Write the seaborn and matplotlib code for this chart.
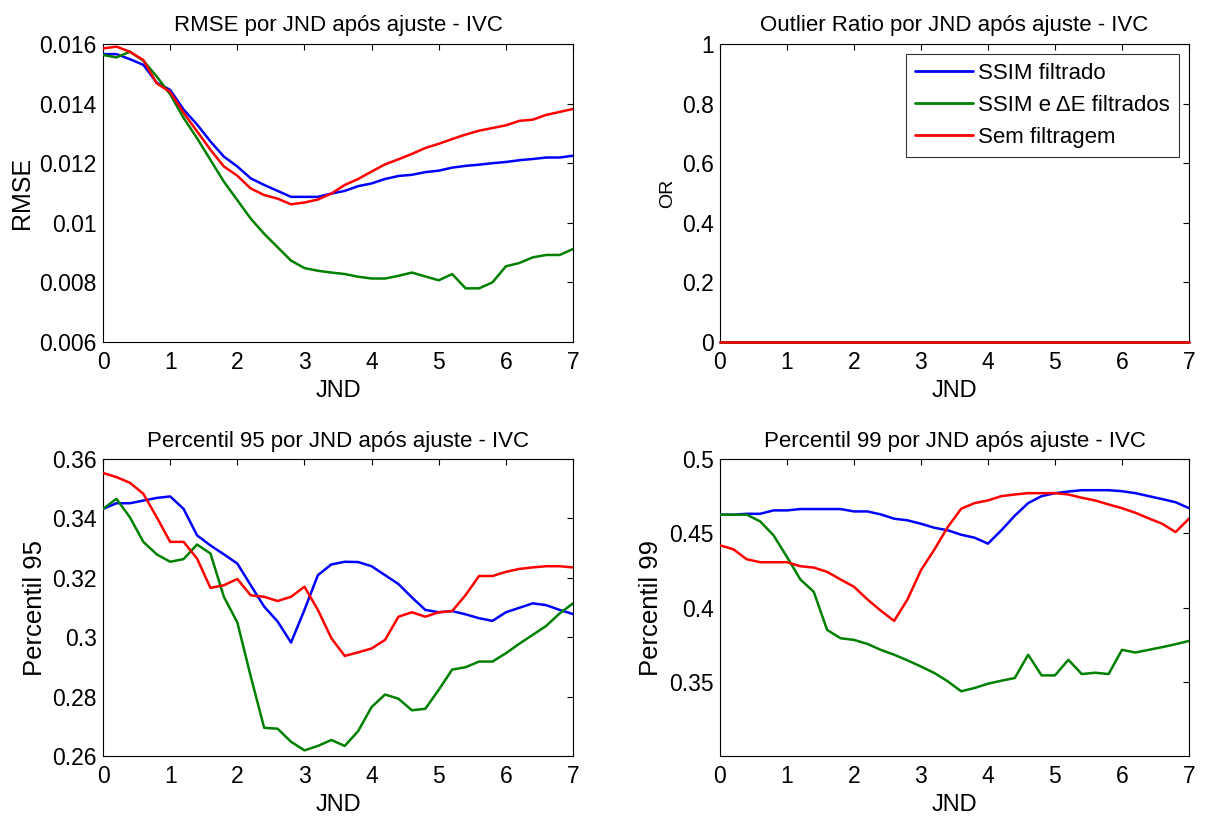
import seaborn as sns
import matplotlib
matplotlib.use('Agg')
import matplotlib.pyplot as plt
import numpy as np
import pandas as pd

jnd = [round(0.2 * i, 1) for i in range(36)]

series_names = ['SSIM filtrado', 'SSIM e \u0394E filtrados', 'Sem filtragem']
colors = ['#0000ff', '#008000', '#ff0000']

# RMSE
rmse_ssim = [0.01566, 0.01566, 0.01549, 0.0153, 0.0147, 0.01446, 0.0138, 0.0133, 0.01273, 0.01222,
             0.01189, 0.01149, 0.01127, 0.01107, 0.01087, 0.01087, 0.01087, 0.01098, 0.01107, 0.01123,
             0.01132, 0.01147, 0.01157, 0.01161, 0.0117, 0.01175, 0.01185, 0.01191, 0.01195, 0.012,
             0.01204, 0.0121, 0.01214, 0.01219, 0.01219, 0.01225]
rmse_ssim_de = [0.01563, 0.01555, 0.01574, 0.01544, 0.01491, 0.01431, 0.01352, 0.01284, 0.01211, 0.01138,
                0.01076, 0.01014, 0.00963, 0.00918, 0.00873, 0.00848, 0.00839, 0.00833, 0.00828, 0.00819,
                0.00813, 0.00813, 0.00822, 0.00833, 0.0082, 0.00807, 0.00828, 0.0078, 0.0078, 0.008,
                0.00854, 0.00865, 0.00884, 0.00892, 0.00892, 0.00912]
rmse_none = [0.01585, 0.01591, 0.01574, 0.01546, 0.01468, 0.01439, 0.01369, 0.01307, 0.01245, 0.01189,
             0.01158, 0.01115, 0.01093, 0.01081, 0.01062, 0.01068, 0.01078, 0.01098, 0.01127, 0.01147,
             0.01172, 0.01196, 0.01213, 0.01231, 0.01251, 0.01265, 0.01281, 0.01296, 0.01309, 0.01318,
             0.01327, 0.01342, 0.01346, 0.01362, 0.01372, 0.01382]

# Outlier ratio (all zero)
or_ssim = [0.0] * 36
or_ssim_de = [0.0] * 36
or_none = [0.0] * 36

# Percentil 95
p95_ssim = [0.3432, 0.3451, 0.3451, 0.346, 0.3469, 0.3474, 0.3432, 0.3343, 0.3309, 0.3279,
            0.3248, 0.3175, 0.3103, 0.3053, 0.2982, 0.3092, 0.3209, 0.3245, 0.3254, 0.3253,
            0.3239, 0.3209, 0.3179, 0.3134, 0.3092, 0.3084, 0.3088, 0.3077, 0.3064, 0.3055,
            0.3084, 0.3099, 0.3114, 0.3108, 0.3092, 0.3078]
p95_ssim_de = [0.3432, 0.3466, 0.3404, 0.3321, 0.3279, 0.3254, 0.3263, 0.3312, 0.3282, 0.3136,
               0.305, 0.2868, 0.2695, 0.2692, 0.2648, 0.2619, 0.2634, 0.2654, 0.2634, 0.2684,
               0.2765, 0.2807, 0.2793, 0.2754, 0.2759, 0.2823, 0.2891, 0.2899, 0.2918, 0.2918,
               0.2946, 0.2978, 0.3008, 0.3038, 0.308, 0.3114]
p95_none = [0.3553, 0.3539, 0.352, 0.3483, 0.3404, 0.3321, 0.3321, 0.3265, 0.3166, 0.3175,
            0.3196, 0.3141, 0.3136, 0.3122, 0.3136, 0.317, 0.3092, 0.2997, 0.2937, 0.2949,
            0.2962, 0.2991, 0.3069, 0.3084, 0.3069, 0.3084, 0.3088, 0.3142, 0.3206, 0.3206,
            0.322, 0.323, 0.3235, 0.3239, 0.3239, 0.3235]

# Percentil 99
p99_ssim = [0.4625, 0.4625, 0.4631, 0.4631, 0.4654, 0.4654, 0.4663, 0.4663, 0.4663, 0.4663,
            0.4647, 0.4647, 0.4627, 0.4598, 0.4587, 0.4564, 0.4537, 0.452, 0.449, 0.447,
            0.443, 0.452, 0.4618, 0.4703, 0.475, 0.477, 0.4781, 0.479, 0.479, 0.479,
            0.4783, 0.477, 0.475, 0.473, 0.4709, 0.4669]
p99_ssim_de = [0.4625, 0.4625, 0.4625, 0.458, 0.4486, 0.4341, 0.4189, 0.4106, 0.3849, 0.3793,
               0.3782, 0.3755, 0.3715, 0.3682, 0.3644, 0.3603, 0.3559, 0.3503, 0.3436, 0.3458,
               0.3487, 0.3507, 0.3525, 0.3682, 0.3543, 0.3543, 0.3648, 0.3552, 0.3561, 0.3552,
               0.3715, 0.3697, 0.3715, 0.3733, 0.3753, 0.3775]
p99_none = [0.4419, 0.4392, 0.4325, 0.4305, 0.4305, 0.4305, 0.4278, 0.4269, 0.424, 0.4189,
            0.414, 0.4055, 0.3979, 0.391, 0.4055, 0.4251, 0.439, 0.4542, 0.4665, 0.4703,
            0.4721, 0.475, 0.4761, 0.477, 0.477, 0.477, 0.4761, 0.4739, 0.4721, 0.4694,
            0.4669, 0.4638, 0.46, 0.4564, 0.4508, 0.4598]

sns.set_style('white')
plt.rcParams['font.family'] = ['Liberation Sans', 'DejaVu Sans']
plt.rcParams['text.color'] = 'black'
plt.rcParams['axes.labelcolor'] = 'black'


def to_long(a, b, c):
    return pd.DataFrame({
        'JND': jnd * 3,
        'valor': a + b + c,
        'serie': [series_names[0]] * 36 + [series_names[1]] * 36 + [series_names[2]] * 36,
    })


fig = plt.figure(figsize=(12.12, 8.16), dpi=100)
positions = [
    [0.085, 0.5809, 0.3878, 0.3652],
    [0.594, 0.5809, 0.3870, 0.3652],
    [0.085, 0.0735, 0.3878, 0.3640],
    [0.594, 0.0735, 0.3870, 0.3640],
]

panels = [
    (to_long(rmse_ssim, rmse_ssim_de, rmse_none), 'RMSE por JND após ajuste - IVC', 'RMSE',
     (0.006, 0.016), [0.006, 0.008, 0.01, 0.012, 0.014, 0.016], ['0.006', '0.008', '0.01', '0.012', '0.014', '0.016'], 18),
    (to_long(or_ssim, or_ssim_de, or_none), 'Outlier Ratio por JND após ajuste - IVC', 'OR',
     (0, 1), [0, 0.2, 0.4, 0.6, 0.8, 1], ['0', '0.2', '0.4', '0.6', '0.8', '1'], 14),
    (to_long(p95_ssim, p95_ssim_de, p95_none), 'Percentil 95 por JND após ajuste - IVC', 'Percentil 95',
     (0.26, 0.36), [0.26, 0.28, 0.3, 0.32, 0.34, 0.36], ['0.26', '0.28', '0.3', '0.32', '0.34', '0.36'], 18.5),
    (to_long(p99_ssim, p99_ssim_de, p99_none), 'Percentil 99 por JND após ajuste - IVC', 'Percentil 99',
     (0.3, 0.5), [0.35, 0.4, 0.45, 0.5], ['0.35', '0.4', '0.45', '0.5'], 18.5),
]

for i, (df, title, ylabel, ylim, yticks, ylabels, ylsize) in enumerate(panels):
    ax = fig.add_axes(positions[i])
    sns.lineplot(data=df, x='JND', y='valor', hue='serie', hue_order=series_names,
                 palette=colors, linewidth=1.8, ax=ax, legend=(i == 1))
    for ln in ax.get_lines():
        ln.set_zorder(3)
        if i == 1:
            ln.set_clip_on(False)
    ax.set_xlim(0, 7)
    ax.set_ylim(*ylim)
    ax.set_xticks(range(8))
    ax.set_xticklabels([str(t) for t in range(8)], fontsize=16.5)
    ax.set_yticks(yticks)
    ax.set_yticklabels(ylabels, fontsize=16.5)
    ax.tick_params(direction='in', top=True, right=True, length=4, width=0.8, colors='black')
    ax.tick_params(axis='x', pad=6.5)
    ax.tick_params(axis='y', pad=4.5)
    for sp in ax.spines.values():
        sp.set_color('black')
        sp.set_linewidth(0.8)
    ax.set_title(title, fontsize=16, pad=9, color='black')
    ax.set_xlabel('JND', fontsize=17, labelpad=4, color='black')
    ax.set_ylabel(ylabel, fontsize=ylsize, labelpad=4, color='black')
    if i == 1:
        leg = ax.legend(loc='upper right', fontsize=16, frameon=True, fancybox=False,
                        edgecolor='black', handlelength=2.6, borderaxespad=0.45,
                        labelspacing=0.5, borderpad=0.4, handletextpad=0.25)
        leg.get_frame().set_linewidth(0.8)
        for ln in leg.get_lines():
            ln.set_linewidth(2)
        for t in leg.get_texts():
            t.set_color('black')

fig.savefig('out.png', dpi=100)
